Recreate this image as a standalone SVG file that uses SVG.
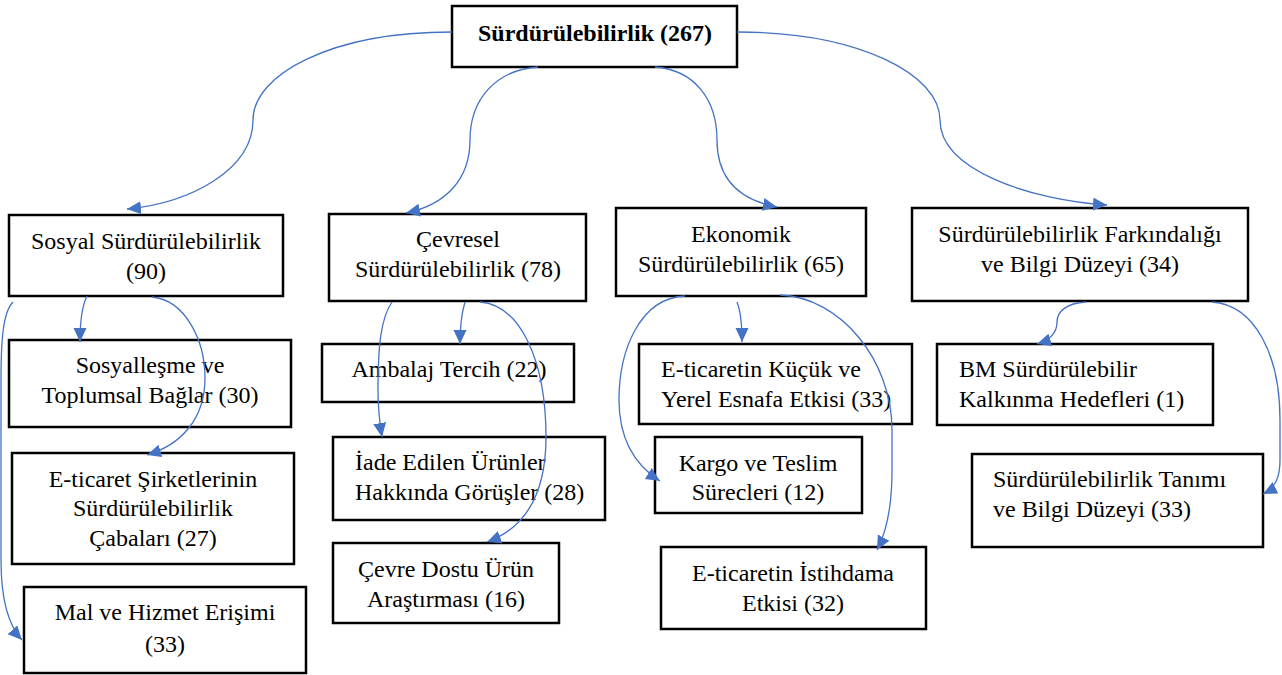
<svg xmlns="http://www.w3.org/2000/svg" width="1282" height="675" viewBox="0 0 1282 675">
<style>
.box{fill:#fff;stroke:#000;stroke-width:2.5}
.t{font-family:"Liberation Serif","Times New Roman",serif;font-size:24px;fill:#000}
.c{text-anchor:middle}
.b{font-weight:bold}
.e{fill:none;stroke:#4472C4;stroke-width:1.3;marker-end:url(#ah)}
</style>
<defs>
<marker id="ah" markerUnits="userSpaceOnUse" markerWidth="16" markerHeight="14" refX="14" refY="6.5" orient="auto">
<path d="M0,0 L14,6.5 L0,13 z" fill="#4472C4"/>
</marker>
</defs>
<rect width="1282" height="675" fill="#fff"/>
<g id="n0"><rect class="box" x="452" y="6" width="285" height="61"/><text class="t c b" x="595" y="41">Sürdürülebilirlik (267)</text></g>
<g id="n1"><rect class="box" x="9" y="215" width="274" height="81"/><text class="t c" x="146" y="249">Sosyal Sürdürülebilirlik</text><text class="t c" x="146" y="279">(90)</text></g>
<g id="n2"><rect class="box" x="329" y="214" width="257" height="87"/><text class="t c" x="458" y="247">Çevresel</text><text class="t c" x="458" y="277">Sürdürülebilirlik (78)</text></g>
<g id="n3"><rect class="box" x="616" y="208" width="250" height="88"/><text class="t c" x="741" y="242">Ekonomik</text><text class="t c" x="741" y="272">Sürdürülebilirlik (65)</text></g>
<g id="n4"><rect class="box" x="912" y="208" width="336" height="93"/><text class="t c" x="1080" y="242">Sürdürülebilirlik Farkındalığı</text><text class="t c" x="1080" y="272">ve Bilgi Düzeyi (34)</text></g>
<g id="n5"><rect class="box" x="9" y="340" width="282" height="87"/><text class="t c" x="150" y="373">Sosyalleşme ve</text><text class="t c" x="150" y="403">Toplumsal Bağlar (30)</text></g>
<g id="n6"><rect class="box" x="12" y="453" width="282" height="111"/><text class="t c" x="153" y="487">E-ticaret Şirketlerinin</text><text class="t c" x="153" y="516">Sürdürülebilirlik</text><text class="t c" x="153" y="546">Çabaları (27)</text></g>
<g id="n7"><rect class="box" x="24" y="587" width="282" height="86"/><text class="t c" x="165" y="620">Mal ve Hizmet Erişimi</text><text class="t c" x="165" y="652">(33)</text></g>
<g id="n8"><rect class="box" x="322" y="344" width="252" height="58"/><text class="t c" x="449" y="377">Ambalaj Tercih (22)</text></g>
<g id="n9"><rect class="box" x="333" y="437" width="272" height="83"/><text class="t" x="355" y="470">İade Edilen Ürünler</text><text class="t" x="355" y="500">Hakkında Görüşler (28)</text></g>
<g id="n10"><rect class="box" x="333" y="543" width="226" height="80"/><text class="t c" x="446" y="577">Çevre Dostu Ürün</text><text class="t c" x="446" y="607">Araştırması (16)</text></g>
<g id="n11"><rect class="box" x="639" y="344" width="273" height="80"/><text class="t" x="661" y="377">E-ticaretin Küçük ve</text><text class="t" x="661" y="407">Yerel Esnafa Etkisi (33)</text></g>
<g id="n12"><rect class="box" x="655" y="437" width="207" height="76"/><text class="t c" x="758" y="471">Kargo ve Teslim</text><text class="t c" x="758" y="500">Sürecleri (12)</text></g>
<g id="n13"><rect class="box" x="661" y="547" width="265" height="82"/><text class="t c" x="793" y="581">E-ticaretin İstihdama</text><text class="t c" x="793" y="611">Etkisi (32)</text></g>
<g id="n14"><rect class="box" x="937" y="344" width="276" height="81"/><text class="t" x="959" y="377">BM Sürdürülebilir</text><text class="t" x="959" y="407">Kalkınma Hedefleri (1)</text></g>
<g id="n15"><rect class="box" x="972" y="454" width="291" height="93"/><text class="t" x="993" y="487">Sürdürülebilirlik Tanımı</text><text class="t" x="993" y="517">ve Bilgi Düzeyi (33)</text></g>
<g id="edges">
<path class="e" d="M452,32 C330,32 253,75 253,120 C253,170 190,203 127,209"/>
<path class="e" d="M538,67 C495,70 470,100 470,140 C470,180 445,205 406,213"/>
<path class="e" d="M655,67 C695,70 717,100 717,140 C717,180 740,200 777,207"/>
<path class="e" d="M737,32 C860,32 940,75 940,120 C940,170 1030,200 1107,205"/>
<path class="e" d="M13,302 C3,312 1,340 1,380 L1,560 C1,600 8,625 22,640"/>
<path class="e" d="M87,296 C82,306 80,320 80,342"/>
<path class="e" d="M152,297 C185,300 205,340 205,378 C205,420 180,445 147,455"/>
<path class="e" d="M392,302 C381,318 378,345 378,390 C378,410 380,425 382,437"/>
<path class="e" d="M465,302 C461,315 460,328 460,344"/>
<path class="e" d="M480,302 C520,305 546,360 546,437 C546,500 520,530 487,542"/>
<path class="e" d="M685,296 C640,298 619,350 619,400 C619,440 635,465 660,481"/>
<path class="e" d="M737,302 C741,312 742,325 742,342"/>
<path class="e" d="M780,295 C840,297 892,360 892,430 L892,470 C892,510 885,535 877,550"/>
<path class="e" d="M1086,302 C1066,303 1057,312 1057,322 C1057,333 1050,340 1037,344"/>
<path class="e" d="M1212,302 C1255,305 1280,355 1280,420 L1280,460 C1280,478 1275,488 1263,494"/>
</g>
</svg>
